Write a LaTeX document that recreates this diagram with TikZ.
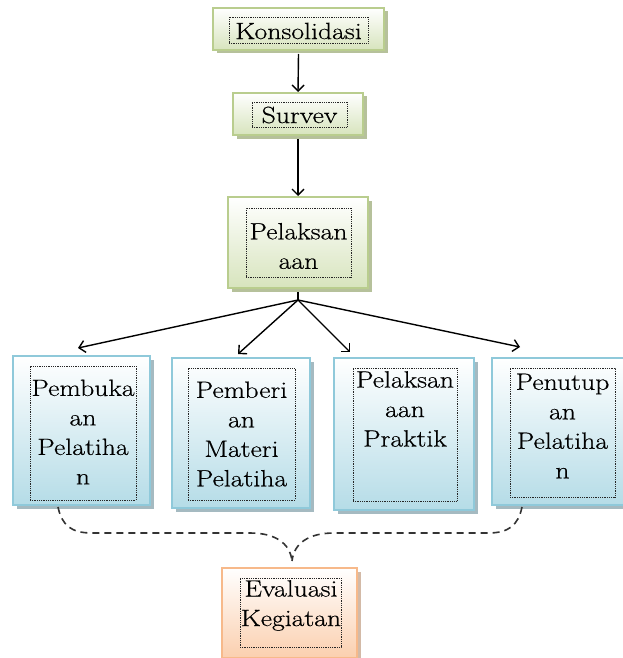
\documentclass[tikz,border=0pt]{standalone}
\usepackage{fontspec}
\setmainfont{Latin Modern Roman}[FakeStretch=1.18, FakeBold=0.5]
\usetikzlibrary{arrows.meta,shadows}
\definecolor{grnB}{HTML}{B9CD8E}
\definecolor{grnF}{HTML}{D7E4BD}
\definecolor{grnS}{HTML}{A4B283}
\definecolor{bluB}{HTML}{8FC9DA}
\definecolor{bluF}{HTML}{B5DCE7}
\definecolor{bluS}{HTML}{8FA9B2}
\definecolor{orgB}{HTML}{F7B98A}
\definecolor{orgF}{HTML}{FBCFAE}
\definecolor{orgS}{HTML}{C9A991}
\definecolor{dashc}{HTML}{333333}
\begin{document}
\begin{tikzpicture}[x=1pt,y=-1pt,
  box/.style={rectangle, inner sep=0pt, outer sep=0pt, line width=1.2pt},
  grnbox/.style={box, draw=grnB, top color=white, bottom color=grnF,
     drop shadow={shadow xshift=3.5pt, shadow yshift=-3.5pt, fill=grnS, opacity=0.8}},
  blubox/.style={box, draw=bluB, top color=white, bottom color=bluF,
     drop shadow={shadow xshift=3.5pt, shadow yshift=-3.5pt, fill=bluS, opacity=0.8}},
  orgbox/.style={box, draw=orgB, top color=white, bottom color=orgF,
     drop shadow={shadow xshift=3.5pt, shadow yshift=-3.5pt, fill=orgS, opacity=0.8}},
  inbox/.style={rectangle, inner sep=0pt, draw=black!85, densely dotted, line width=0.8pt},
  lbl/.style={inner sep=0pt, align=center, font=\fontsize{23.5}{29.5}\selectfont},
  arr/.style={-{Straight Barb[length=6pt,width=12pt,line width=1.4pt]}, line width=1.4pt, black},
  brace/.style={dashc, line width=1.6pt, dash pattern=on 7pt off 5pt}
]
\useasboundingbox[fill=white] (0,0) rectangle (622,658);

% ---- top chain ----
\node[grnbox, minimum width=171pt, minimum height=42pt] (kons) at (298.5,29) {};
\node[inbox, minimum width=139pt, minimum height=26pt] (kons-in) at (298.5,30) {};
\node[lbl] (kons-t) at (298.5,31) {Konsolidasi};

\node[grnbox, minimum width=130pt, minimum height=42pt] (surv) at (298,114) {};
\node[inbox, minimum width=95pt, minimum height=25pt] (surv-in) at (299.5,114.5) {};
\node[lbl] (surv-t) at (299.5,115) {Survev};

\node[grnbox, minimum width=140pt, minimum height=91pt] (pel) at (298,242.5) {};
\node[inbox, minimum width=105pt, minimum height=69pt] (pel-in) at (298.5,242.5) {};
\node[lbl] (pel-t) at (298.5,246) {Pelaksan\\aan};

% ---- second row ----
\node[blubox, minimum width=137pt, minimum height=149pt] (b1) at (81.5,430.5) {};
\node[inbox, minimum width=106pt, minimum height=134pt] (b1-in) at (83,433) {};
\node[lbl] (b1-t) at (83,432) {Pembuka\\an\\Pelatiha\\n};

\node[blubox, minimum width=138pt, minimum height=150pt] (b2) at (241,433) {};
\node[inbox, minimum width=107pt, minimum height=132pt] (b2-in) at (241.5,434) {};
\node[lbl] (b2-t) at (241.5,434) {Pemberi\\an\\Materi\\Pelatiha};

\node[blubox, minimum width=140pt, minimum height=152pt] (b3) at (404,434) {};
\node[inbox, minimum width=104pt, minimum height=133pt] (b3-in) at (405,434.5) {};
\node[lbl, anchor=north] (b3-t) at (405,371) {Pelaksan\\aan\\Praktik};

\node[blubox, minimum width=134pt, minimum height=147pt] (b4) at (559,431.5) {};
\node[inbox, minimum width=105pt, minimum height=129pt] (b4-in) at (562.5,432.5) {};
\node[lbl] (b4-t) at (562.5,426) {Penutup\\an\\Pelatiha\\n};

% ---- evaluation ----
\node[orgbox, minimum width=135pt, minimum height=90pt] (ev) at (289.5,613) {};
\node[inbox, minimum width=101pt, minimum height=69pt] (ev-in) at (290.5,612.5) {};
\node[lbl, anchor=north] (ev-t) at (291,580) {Evaluasi\\Kegiatan};

% ---- connectors ----
\coordinate (fan) at (298,300);
\coordinate (t1) at (78,348);
\coordinate (t2) at (238,354);
\coordinate (t3) at (350,352);
\coordinate (t4) at (520,347);
\draw[arr] ([yshift=-4pt]kons.south) -- ([yshift=1pt]surv.north);
\draw[arr] ([yshift=-4pt]surv.south) -- ([yshift=1pt]pel.north);
\draw[line width=1.4pt] ([yshift=-4pt]pel.south) -- (fan);
\draw[arr] (fan) -- (t1);
\draw[arr] (fan) -- (t2);
\draw[arr] (fan) -- (t3);
\draw[arr] (fan) -- (t4);

\coordinate (bl) at (58,507);
\coordinate (br) at (522,507);
\coordinate (tip) at (292,561);
\draw[brace] (bl) .. controls (62,526) and (72,533) .. (92,533) -- (250,533)
   .. controls (275,533) and (290,543) .. (tip);
\draw[brace] (br) .. controls (518,526) and (508,533) .. (488,533) -- (334,533)
   .. controls (309,533) and (294,543) .. (tip);
\end{tikzpicture}
\end{document}
